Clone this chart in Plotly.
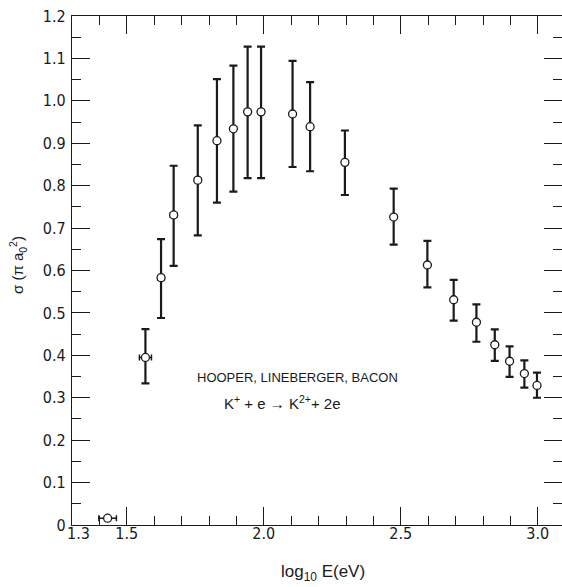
import plotly.graph_objects as go

# ---- data ----
log_e = [1.430, 1.568, 1.625, 1.671, 1.759, 1.829, 1.889, 1.941, 1.990,
         2.105, 2.169, 2.296, 2.474, 2.597, 2.693, 2.776, 2.843, 2.897, 2.951, 2.997]
sigma = [0.016, 0.395, 0.583, 0.731, 0.813, 0.906, 0.934, 0.974, 0.974,
         0.969, 0.939, 0.855, 0.726, 0.613, 0.531, 0.478, 0.425, 0.386, 0.357, 0.329]
sigma_hi = [0.016, 0.462, 0.674, 0.847, 0.942, 1.051, 1.083, 1.128, 1.128,
            1.094, 1.044, 0.930, 0.793, 0.670, 0.578, 0.520, 0.461, 0.421, 0.388, 0.359]
sigma_lo = [0.016, 0.334, 0.488, 0.611, 0.683, 0.760, 0.786, 0.818, 0.818,
            0.844, 0.834, 0.778, 0.661, 0.560, 0.482, 0.432, 0.387, 0.349, 0.324, 0.300]
log_e_err = [0.032, 0.022, 0.012, 0.012, 0, 0, 0, 0, 0,
             0, 0, 0, 0, 0, 0, 0, 0, 0, 0, 0]

x_tickvals = [1.3, 1.5, 2.0, 2.5, 3.0]
x_ticktext = ["", "1.5", "2.0", "2.5", "3.0"]   # "1.3" drawn as a corner label below
x_corner_label = "1.3"
y_tickvals = [0, 0.1, 0.2, 0.3, 0.4, 0.5, 0.6, 0.7, 0.8, 0.9, 1.0, 1.1, 1.2]
y_ticktext = ["0", "0.1", "0.2", "0.3", "0.4", "0.5", "0.6", "0.7", "0.8", "0.9", "1.0", "1.1", "1.2"]

err_plus = [h - s for h, s in zip(sigma_hi, sigma)]
err_minus = [s - l for s, l in zip(sigma, sigma_lo)]

INK = "#1a1a1a"
TICKFONT = dict(family="Liberation Sans Narrow, DejaVu Sans Condensed, Arial Narrow, sans-serif",
                size=16, color=INK)
TEXTFONT = "Liberation Sans, Arial, sans-serif"
NB = "\u00a0"

fig = go.Figure()
fig.add_trace(go.Scatter(
    x=log_e, y=sigma, mode="markers",
    marker=dict(symbol="circle", size=8, color="white", line=dict(color=INK, width=1.3)),
    error_y=dict(type="data", symmetric=False, array=err_plus, arrayminus=err_minus,
                 color=INK, thickness=2.2, width=4),
    error_x=dict(type="data", array=log_e_err, color=INK, thickness=1.5, width=3),
    showlegend=False,
))

fig.update_layout(
    width=562, height=587,
    margin=dict(l=72, r=0, t=16, b=62),
    paper_bgcolor="white", plot_bgcolor="white",
    xaxis=dict(range=[1.3, 1.3 + 490 / 274], tickvals=x_tickvals, ticktext=x_ticktext,
               ticks="inside", ticklen=18, tickwidth=1.2, tickcolor=INK,
               minor=dict(dtick=0.1, tick0=1.3, ticks="inside", ticklen=9, tickwidth=1.1,
                          tickcolor=INK, showgrid=False),
               showline=True, linecolor=INK, linewidth=1.2, mirror="ticks",
               showgrid=False, zeroline=False, tickfont=TICKFONT, ticklabelstandoff=-6),
    yaxis=dict(range=[0, 1.2], tickvals=y_tickvals, ticktext=y_ticktext,
               ticks="inside", ticklen=18, tickwidth=1.2, tickcolor=INK,
               minor=dict(dtick=0.05, tick0=0, ticks="inside", ticklen=9, tickwidth=1.1,
                          tickcolor=INK, showgrid=False),
               showline=True, linecolor=INK, linewidth=1.2, mirror="ticks",
               showgrid=False, zeroline=False, tickfont=TICKFONT, ticklabelstandoff=2),
    annotations=[
        dict(text=x_corner_label, x=(78 - 72) / 490, y=-(533 - 525) / 509, xref="paper", yref="paper",
             xanchor="center", yanchor="middle", showarrow=False, font=TICKFONT),
        dict(text="HOOPER, LINEBERGER, BACON", x=2.123, y=0.347, xref="x", yref="y",
             showarrow=False, font=dict(family=TEXTFONT, size=13, color=INK)),
        dict(text=f"K<sup>+</sup>{NB}+{NB}e{NB}\u2192{NB}K<sup>2+</sup>+{NB}2e", x=2.068, y=0.288,
             xref="x", yref="y",
             showarrow=False, font=dict(family=TEXTFONT, size=15, color=INK)),
        dict(text="log<sub>10</sub> E(eV)", x=0.512, y=-0.094, xref="paper", yref="paper",
             xanchor="center", yanchor="middle", showarrow=False,
             font=dict(family=TEXTFONT, size=17, color=INK)),
        dict(text="\u03c3 (\u03c0 a<sub>0</sub><sup>2</sup>)", x=-0.111, y=0.51, xref="paper", yref="paper",
             xanchor="center", yanchor="middle", textangle=-90, showarrow=False,
             font=dict(family=TEXTFONT, size=15, color=INK)),
    ],
)

fig.write_html("out.html")
